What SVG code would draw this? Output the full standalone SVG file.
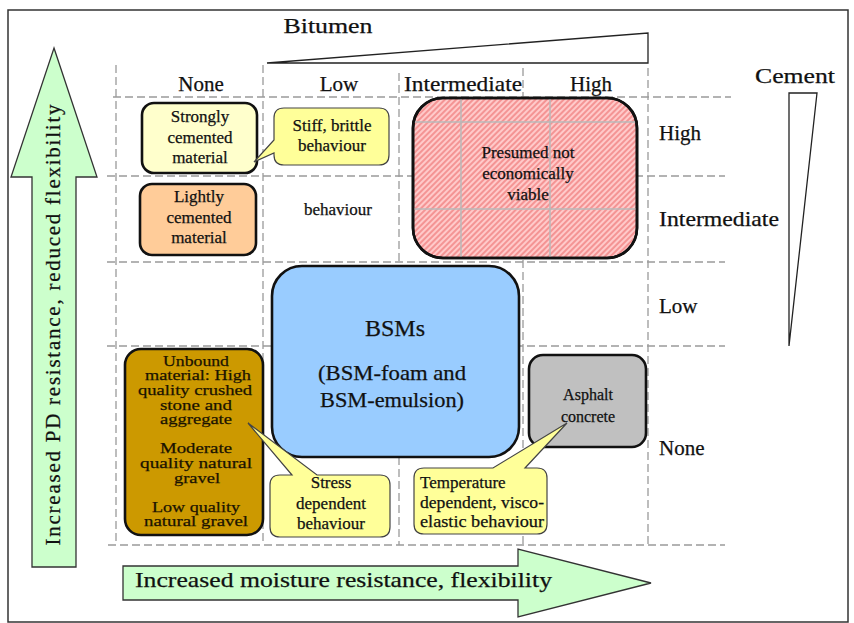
<svg xmlns="http://www.w3.org/2000/svg" width="854" height="623" viewBox="0 0 854 623" font-family="'Liberation Serif', 'Times New Roman', serif">
<style>
.grid{stroke:#9a9a9a;stroke-width:1.3;stroke-dasharray:8 4;fill:none}
.box{stroke:#111;stroke-width:2.6}
.call{fill:#FFFF99;stroke:#444;stroke-width:1.2}
text{font-family:'Liberation Serif','Times New Roman',serif;fill:#111;stroke:#111;stroke-width:0.25}
.lbl{font-size:21px}
.big{font-size:22px}
.bt{font-size:17px;text-anchor:middle}
.ub{font-size:15.5px;text-anchor:middle;fill:#1a1300;stroke:#1a1300}
.mid{text-anchor:middle}
.arrow{fill:#CCFFCC;stroke:#333;stroke-width:1.3}
.wedge{fill:#fff;stroke:#222;stroke-width:1.3}
.ingrid{stroke:#b8b8b8;stroke-width:1.5}
</style>
<defs>
<pattern id="hatch" patternUnits="userSpaceOnUse" width="4" height="4" patternTransform="rotate(45)">
<rect width="4" height="4" fill="#FFCACA"/>
<line x1="1" y1="0" x2="1" y2="4" stroke="#EE7070" stroke-width="1.2"/>
</pattern>
<clipPath id="pclip"><rect x="413" y="98" width="224" height="160" rx="30"/></clipPath>
</defs>
<rect width="854" height="623" fill="#fff"/>
<rect id="frame" x="8" y="10" width="840" height="612" fill="none" stroke="#333" stroke-width="1.5"/>

<g id="grid" class="grid">
<line x1="116" y1="65" x2="116" y2="545"/>
<line x1="263" y1="65" x2="263" y2="545"/>
<line x1="399" y1="73" x2="399" y2="545"/>
<line x1="523" y1="68" x2="523" y2="545"/>
<line x1="648" y1="68" x2="648" y2="545"/>
<line x1="113" y1="97" x2="731" y2="97"/>
<line x1="107" y1="176" x2="725" y2="176"/>
<line x1="107" y1="262" x2="725" y2="262"/>
<line x1="107" y1="346" x2="725" y2="346"/>
<line x1="108" y1="545" x2="725" y2="545"/>
</g>

<g id="bitumen-scale">
<polygon class="wedge" points="267,63 648,33 648,63"/>
<text class="big mid" x="328" y="33" textLength="89" lengthAdjust="spacingAndGlyphs">Bitumen</text>
</g>
<g id="cement-scale">
<polygon class="wedge" points="789,93 817,93 789,346"/>
<text class="big mid" x="795" y="83" textLength="80" lengthAdjust="spacingAndGlyphs">Cement</text>
</g>

<g id="column-labels">
<text class="lbl mid" x="201" y="91">None</text>
<text class="lbl mid" x="339" y="91">Low</text>
<text class="lbl mid" x="463" y="91" textLength="118" lengthAdjust="spacingAndGlyphs">Intermediate</text>
<text class="lbl mid" x="591" y="91">High</text>
</g>
<g id="row-labels">
<text class="lbl" x="659" y="140">High</text>
<text class="lbl" x="659" y="226" textLength="120" lengthAdjust="spacingAndGlyphs">Intermediate</text>
<text class="lbl" x="659" y="313">Low</text>
<text class="lbl" x="659" y="455">None</text>
</g>

<g id="axes">
<g id="axis-vertical">
<polygon class="arrow" points="54,48 97,177 76,177 76,567 32,567 32,177 11,177"/>
<text class="mid" font-size="21" transform="translate(60,325) rotate(-90)" textLength="441" lengthAdjust="spacing">Increased PD resistance, reduced flexibility</text>
</g>
<g id="axis-horizontal">
<polygon class="arrow" points="123,566 518,566 518,549 651,583 518,617 518,600 123,600"/>
<text font-size="22" x="135" y="587" textLength="417" lengthAdjust="spacingAndGlyphs">Increased moisture resistance, flexibility</text>
</g>
</g>

<g id="strongly-cemented">
<rect class="box" x="142" y="103" width="115" height="70" rx="12" fill="#FFFFCC"/>
<text class="bt" x="200" y="122">Strongly</text>
<text class="bt" x="200" y="143">cemented</text>
<text class="bt" x="200" y="163">material</text>
</g>

<g id="lightly-cemented">
<rect class="box" x="140" y="184" width="116" height="71" rx="12" fill="#FFCC99"/>
<text class="bt" x="199" y="202">Lightly</text>
<text class="bt" x="199" y="223">cemented</text>
<text class="bt" x="199" y="243">material</text>
</g>

<g id="behaviour-label">
<text class="bt" x="338" y="215">behaviour</text>
</g>

<g id="not-viable">
<rect class="box" x="413" y="98" width="224" height="160" rx="30" fill="url(#hatch)"/>
<g clip-path="url(#pclip)" class="ingrid">
<line x1="413" y1="122" x2="637" y2="122"/>
<line x1="413" y1="209" x2="637" y2="209"/>
<line x1="461" y1="98" x2="461" y2="258"/>
<line x1="550" y1="98" x2="550" y2="258"/>
</g>
<rect x="413" y="98" width="224" height="160" rx="30" fill="none" stroke="#111" stroke-width="2.6"/>
<text class="bt" x="528" y="158">Presumed not</text>
<text class="bt" x="528" y="179">economically</text>
<text class="bt" x="528" y="200">viable</text>
</g>

<g id="bsms">
<rect class="box" x="272" y="266" width="247" height="191" rx="30" fill="#99CCFF"/>
<text class="mid" font-size="24" x="395" y="336">BSMs</text>
<text class="mid" font-size="21" x="392" y="380" textLength="148" lengthAdjust="spacingAndGlyphs">(BSM-foam  and</text>
<text class="mid" font-size="21" x="392" y="407" textLength="144" lengthAdjust="spacingAndGlyphs">BSM-emulsion)</text>
</g>

<g id="unbound">
<rect class="box" x="125" y="349" width="138" height="186" rx="16" fill="#CC9900"/>
<text class="ub" x="196" y="366" textLength="66" lengthAdjust="spacingAndGlyphs">Unbound</text>
<text class="ub" x="198" y="380" textLength="106" lengthAdjust="spacingAndGlyphs">material: High</text>
<text class="ub" x="195" y="395" textLength="114" lengthAdjust="spacingAndGlyphs">quality  crushed</text>
<text class="ub" x="196" y="410" textLength="72" lengthAdjust="spacingAndGlyphs">stone  and</text>
<text class="ub" x="196" y="424" textLength="72" lengthAdjust="spacingAndGlyphs">aggregate</text>
<text class="ub" x="196" y="453" textLength="72" lengthAdjust="spacingAndGlyphs">Moderate</text>
<text class="ub" x="196" y="468" textLength="112" lengthAdjust="spacingAndGlyphs">quality  natural</text>
<text class="ub" x="197" y="483" textLength="46" lengthAdjust="spacingAndGlyphs">gravel</text>
<text class="ub" x="196" y="512" textLength="88" lengthAdjust="spacingAndGlyphs">Low quality</text>
<text class="ub" x="196" y="526" textLength="104" lengthAdjust="spacingAndGlyphs">natural  gravel</text>
</g>

<g id="asphalt">
<rect class="box" x="529" y="355" width="117" height="92" rx="14" fill="#C0C0C0"/>
<text class="mid" font-size="16" x="588" y="400">Asphalt</text>
<text class="mid" font-size="16" x="588" y="422">concrete</text>
</g>

<g id="callout-stiff">
<path class="call" d="M284,108 H379 Q389,108 389,118 V155 Q389,165 379,165 H284 Q274,165 274,155 V153 L254,162 L274,140 V118 Q274,108 284,108 Z"/>
<text class="bt" x="332" y="131">Stiff, brittle</text>
<text class="bt" x="332" y="151">behaviour</text>
</g>

<g id="callout-stress">
<path class="call" d="M280,475 H292 L248,423 L317,475 H380 Q390,475 390,485 V527 Q390,537 380,537 H280 Q270,537 270,527 V485 Q270,475 280,475 Z"/>
<text class="bt" x="331" y="488">Stress</text>
<text class="bt" x="331" y="509">dependent</text>
<text class="bt" x="331" y="529">behaviour</text>
</g>

<g id="callout-temperature">
<path class="call" d="M424,468 H493 L567,423 L525,468 H537 Q547,468 547,478 V524 Q547,534 537,534 H424 Q414,534 414,524 V478 Q414,468 424,468 Z"/>
<text font-size="17" x="420" y="488">Temperature</text>
<text font-size="17" x="420" y="508" textLength="124" lengthAdjust="spacingAndGlyphs">dependent, visco-</text>
<text font-size="17" x="420" y="527" textLength="124" lengthAdjust="spacingAndGlyphs">elastic behaviour</text>
</g>
</svg>
